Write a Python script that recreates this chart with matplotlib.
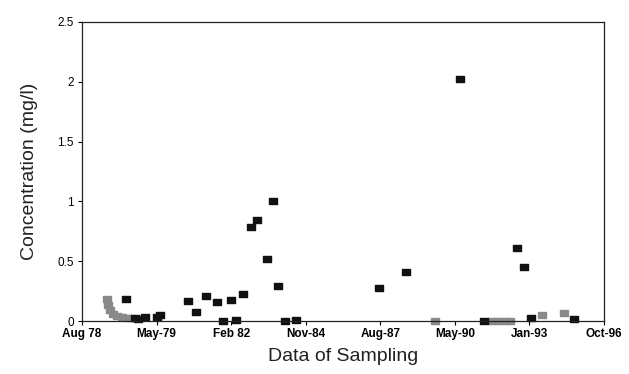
import numpy as np
import matplotlib.pyplot as plt
from matplotlib.path import Path

plt.rcParams['font.family'] = ['Liberation Sans', 'DejaVu Sans']

# Sampling dates (decimal years) and concentrations (mg/l)
dates = [1980.11, 1980.43, 1980.53, 1980.77, 1981.19, 1981.30, 1982.27, 1982.55,
         1982.90, 1983.28, 1983.49, 1983.77, 1983.94, 1984.18, 1984.46, 1984.67,
         1985.02, 1985.23, 1985.40, 1985.65, 1986.03, 1988.92, 1989.86, 1991.74,
         1992.57, 1993.72, 1993.97, 1994.21, 1995.71]
conc = [0.18, 0.025, 0.02, 0.035, 0.035, 0.05, 0.17, 0.075,
        0.21, 0.16, 0.0, 0.175, 0.01, 0.225, 0.79, 0.845,
        0.52, 1.0, 0.29, 0.0, 0.01, 0.275, 0.41, 2.02,
        0.0, 0.61, 0.45, 0.025, 0.02]

# samples that came out faint in the scan
dates_faint = [1979.45, 1979.49, 1979.55, 1979.66, 1979.80, 1979.97, 1980.15,
               1980.32, 1990.87, 1992.85, 1993.06, 1993.27, 1993.48, 1994.59,
               1995.36]
conc_faint = [0.18, 0.13, 0.09, 0.06, 0.04, 0.03, 0.025,
              0.025, 0.0, 0.0, 0.0, 0.0, 0.0, 0.05,
              0.065]

x_labels = ['Aug 78', 'May-79', 'Feb 82', 'Nov-84', 'Aug-87', 'May-90', 'Jan-93', 'Oct-96']
y_ticks = [0, 0.5, 1, 1.5, 2, 2.5]
y_labels = ['0', '0.5', '1', '1.5', '2', '2.5']

x_start, x_end = 1978.58, 1996.75

# flat rectangle marker
rect = Path([(-1, -0.7), (1, -0.7), (1, 0.7), (-1, 0.7), (-1, -0.7)],
            [Path.MOVETO, Path.LINETO, Path.LINETO, Path.LINETO, Path.CLOSEPOLY])

fig = plt.figure(figsize=(6.29, 3.74), dpi=100)
ax = fig.add_axes([0.1304, 0.1417, 0.8299, 0.7995])

ax.plot(dates_faint, conc_faint, linestyle='none', marker=rect, markersize=6,
        color='#8a8a8a', clip_on=False)
ax.plot(dates, conc, linestyle='none', marker=rect, markersize=6,
        color='#111111', clip_on=False)

ax.set_xlim(x_start, x_end)
ax.set_ylim(0, 2.5)
ax.set_xticks(np.linspace(x_start, x_end, len(x_labels)))
ax.set_xticklabels(x_labels, fontsize=8.5, fontweight='bold')
ax.set_yticks(y_ticks)
ax.set_yticklabels(y_labels, fontsize=8.5)
ax.tick_params(axis='both', direction='out', length=3, width=0.8, pad=2)
ax.tick_params(axis='y', pad=3)

for s in ax.spines.values():
    s.set_linewidth(0.9)
    s.set_color('#222222')

ax.set_ylabel('Concentration (mg/l)', fontsize=14, labelpad=14, color='#222222')
ax.set_xlabel('Data of Sampling', fontsize=14, labelpad=6, color='#222222')

fig.savefig('out.png', dpi=100)
